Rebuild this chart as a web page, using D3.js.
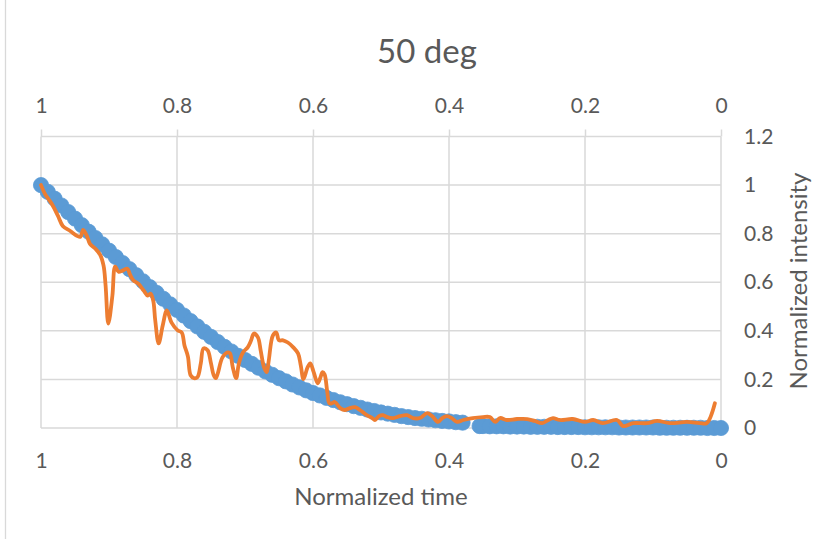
<!DOCTYPE html>
<html>
<head>
<meta charset="utf-8">
<script src="https://cdn.jsdelivr.net/npm/d3@7"></script>
<style>
  body { margin: 0; background: #fff; }
  svg { display: block; font-family: Lato, "Noto Sans", sans-serif; }
</style>
</head>
<body>
<svg id="chart" width="835" height="539"></svg>
<script>
// Fitted curve (blue markers), first part: normalized time and intensity
const fitTime1 = [1.00, 0.99, 0.98, 0.97, 0.96, 0.95, 0.94, 0.93, 0.92, 0.91,
  0.90, 0.89, 0.88, 0.87, 0.86, 0.85, 0.84, 0.83, 0.82, 0.81,
  0.80, 0.79, 0.78, 0.77, 0.76, 0.75, 0.74, 0.73, 0.72, 0.71,
  0.70, 0.69, 0.68, 0.67, 0.66, 0.65, 0.64, 0.63, 0.62, 0.61,
  0.60, 0.59, 0.58, 0.57, 0.56, 0.55, 0.54, 0.53, 0.52, 0.51,
  0.50, 0.49, 0.48, 0.47, 0.46, 0.45, 0.44, 0.43, 0.42, 0.41,
  0.40, 0.39, 0.38];
const fitValue1 = [1.000, 0.972, 0.944, 0.916, 0.889, 0.862, 0.835, 0.808, 0.782, 0.756,
  0.730, 0.704, 0.679, 0.654, 0.629, 0.604, 0.580, 0.556, 0.532, 0.509,
  0.486, 0.463, 0.440, 0.418, 0.396, 0.375, 0.354, 0.334, 0.315, 0.297,
  0.280, 0.264, 0.248, 0.233, 0.219, 0.205, 0.192, 0.179, 0.167, 0.155,
  0.144, 0.134, 0.124, 0.115, 0.106, 0.098, 0.090, 0.083, 0.076, 0.070,
  0.064, 0.059, 0.054, 0.049, 0.045, 0.041, 0.038, 0.035, 0.032, 0.029,
  0.027, 0.024, 0.022];

// Fitted curve, second part after the gap
const fitTime2 = [0.355, 0.35, 0.34, 0.33, 0.32, 0.31, 0.30, 0.29, 0.28, 0.27, 0.26,
  0.25, 0.24, 0.23, 0.22, 0.21, 0.20, 0.19, 0.18, 0.17, 0.16,
  0.15, 0.14, 0.13, 0.12, 0.11, 0.10, 0.09, 0.08, 0.07, 0.06,
  0.05, 0.04, 0.03, 0.02, 0.01, 0.00];
const fitValue2 = [0.008, 0.008, 0.007, 0.007, 0.007, 0.006, 0.006, 0.006, 0.005, 0.005, 0.005,
  0.005, 0.004, 0.004, 0.004, 0.004, 0.003, 0.003, 0.003, 0.003, 0.003,
  0.002, 0.002, 0.002, 0.002, 0.002, 0.002, 0.001, 0.001, 0.001, 0.001,
  0.001, 0.001, 0.001, 0.000, 0.000, 0.000];

// Measured intensity (orange line)
const measTime = [1.000, 0.994, 0.984, 0.975, 0.968, 0.957, 0.947, 0.942, 0.938, 0.932,
  0.928, 0.920, 0.913, 0.908, 0.905, 0.901, 0.895, 0.891, 0.886, 0.880,
  0.873, 0.869, 0.864, 0.857, 0.849, 0.843, 0.839, 0.835, 0.832, 0.827,
  0.821, 0.815, 0.808, 0.799, 0.793, 0.789, 0.784, 0.780, 0.775, 0.770,
  0.765, 0.761, 0.755, 0.750, 0.746, 0.743, 0.740, 0.733, 0.725, 0.722,
  0.718, 0.713, 0.709, 0.703, 0.696, 0.691, 0.687, 0.681, 0.677, 0.672,
  0.668, 0.665, 0.659, 0.654, 0.650, 0.644, 0.637, 0.629, 0.622, 0.618,
  0.614, 0.608, 0.604, 0.599, 0.593, 0.589, 0.586, 0.583, 0.579, 0.576,
  0.572, 0.568, 0.560, 0.553, 0.546, 0.538, 0.531, 0.521, 0.513, 0.509,
  0.503, 0.497, 0.491, 0.482, 0.472, 0.462, 0.453, 0.443, 0.432, 0.425,
  0.416, 0.410, 0.403, 0.396, 0.388, 0.379, 0.365, 0.350, 0.340, 0.332,
  0.325, 0.315, 0.300, 0.285, 0.274, 0.263, 0.254, 0.247, 0.237, 0.218,
  0.200, 0.188, 0.174, 0.153, 0.144, 0.129, 0.109, 0.094, 0.075, 0.050,
  0.031, 0.021, 0.009];
const measValue = [1.000, 0.963, 0.922, 0.873, 0.832, 0.811, 0.791, 0.787, 0.816, 0.787,
  0.758, 0.738, 0.713, 0.668, 0.586, 0.430, 0.545, 0.664, 0.643, 0.648,
  0.656, 0.631, 0.607, 0.594, 0.566, 0.545, 0.553, 0.525, 0.443, 0.348,
  0.422, 0.484, 0.434, 0.402, 0.393, 0.340, 0.295, 0.217, 0.205, 0.209,
  0.266, 0.328, 0.320, 0.266, 0.217, 0.205, 0.225, 0.291, 0.311, 0.307,
  0.250, 0.205, 0.266, 0.311, 0.332, 0.361, 0.389, 0.373, 0.320, 0.250,
  0.230, 0.279, 0.381, 0.393, 0.361, 0.361, 0.352, 0.332, 0.307, 0.258,
  0.201, 0.250, 0.266, 0.230, 0.184, 0.209, 0.230, 0.221, 0.148, 0.102,
  0.102, 0.107, 0.082, 0.074, 0.082, 0.086, 0.074, 0.053, 0.041, 0.033,
  0.049, 0.053, 0.045, 0.041, 0.049, 0.053, 0.041, 0.041, 0.061, 0.049,
  0.025, 0.041, 0.049, 0.041, 0.025, 0.033, 0.041, 0.045, 0.045, 0.025,
  0.041, 0.033, 0.037, 0.037, 0.029, 0.020, 0.033, 0.041, 0.033, 0.037,
  0.025, 0.033, 0.020, 0.033, 0.008, 0.020, 0.020, 0.029, 0.020, 0.025,
  0.020, 0.020, 0.102];

const timeTicks = [1, 0.8, 0.6, 0.4, 0.2, 0];
const intensityTicks = [0, 0.2, 0.4, 0.6, 0.8, 1, 1.2];

const svg = d3.select("#chart");
const gridColor = "#d9d9d9", textColor = "#595959";

const x = d3.scaleLinear().domain([1, 0]).range([41, 721]);
const y = d3.scaleLinear().domain([0, 1.2]).range([428, 136.5]);

// outer chart border (only the left edge shows)
svg.append("line")
    .attr("x1", 5.5).attr("x2", 5.5).attr("y1", 0).attr("y2", 539)
    .attr("stroke", gridColor).attr("stroke-width", 1.3);

// gridlines
svg.append("g").selectAll("line")
    .data(intensityTicks).enter().append("line")
    .attr("x1", x(1)).attr("x2", x(0))
    .attr("y1", d => y(d)).attr("y2", d => y(d))
    .attr("stroke", gridColor).attr("stroke-width", 1.5);

svg.append("g").selectAll("line")
    .data(timeTicks).enter().append("line")
    .attr("x1", d => x(d)).attr("x2", d => x(d))
    .attr("y1", y(0)).attr("y2", y(1.2))
    .attr("stroke", gridColor).attr("stroke-width", 1.5);

// top axis: ticks outward, labels above
const topAxis = svg.append("g")
    .attr("transform", `translate(0,${y(1.2)})`)
    .call(d3.axisTop(x).tickValues(timeTicks).tickSize(7).tickPadding(17).tickFormat(d => d));
topAxis.select(".domain").remove();
topAxis.selectAll("line").attr("stroke", gridColor).attr("stroke-width", 1.5);

// bottom axis: labels only
const bottomAxis = svg.append("g")
    .attr("transform", `translate(0,${y(0)})`)
    .call(d3.axisBottom(x).tickValues(timeTicks).tickSize(0).tickPadding(25).tickFormat(d => d));
bottomAxis.select(".domain").remove();
bottomAxis.selectAll("text").attr("dy", "0.71em");

// right axis: labels only
const rightAxis = svg.append("g")
    .attr("transform", `translate(${x(0)},0)`)
    .call(d3.axisRight(y).tickValues(intensityTicks).tickSize(0).tickPadding(23).tickFormat(d => d));
rightAxis.select(".domain").remove();

svg.selectAll(".tick text")
    .attr("fill", textColor)
    .style("font-size", "21px")
    .style("font-family", "Lato, 'Noto Sans', sans-serif");
topAxis.selectAll("text").attr("dy", "0");

// fitted markers
const fitData = fitTime1.map((t, i) => ({ t: t, v: fitValue1[i] }))
    .concat(fitTime2.map((t, i) => ({ t: t, v: fitValue2[i] })));
svg.append("g").selectAll("circle")
    .data(fitData).enter().append("circle")
    .attr("cx", d => x(d.t))
    .attr("cy", d => y(d.v))
    .attr("r", 7.6)
    .attr("fill", "#5b9bd5")
    .attr("stroke", "#5b9bd5")
    .attr("stroke-width", 0.8);

// measured line
const measData = measTime.map((t, i) => ({ t: t, v: measValue[i] }));
const line = d3.line()
    .x(d => x(d.t))
    .y(d => y(d.v))
    .curve(d3.curveCatmullRom.alpha(0.5));
svg.append("path")
    .datum(measData)
    .attr("d", line)
    .attr("fill", "none")
    .attr("stroke", "#ed7d31")
    .attr("stroke-width", 3.8)
    .attr("stroke-linejoin", "round")
    .attr("stroke-linecap", "round");

// titles
svg.append("text")
    .attr("x", 427).attr("y", 63)
    .attr("text-anchor", "middle")
    .attr("fill", textColor)
    .style("font-size", "33px")
    .text("50 deg");

svg.append("text")
    .attr("x", 381).attr("y", 505)
    .attr("text-anchor", "middle")
    .attr("fill", textColor)
    .style("font-size", "24px")
    .text("Normalized time");

svg.append("text")
    .attr("transform", "translate(807,281) rotate(-90)")
    .attr("text-anchor", "middle")
    .attr("fill", textColor)
    .style("font-size", "24px")
    .text("Normalized intensity");
</script>
</body>
</html>
